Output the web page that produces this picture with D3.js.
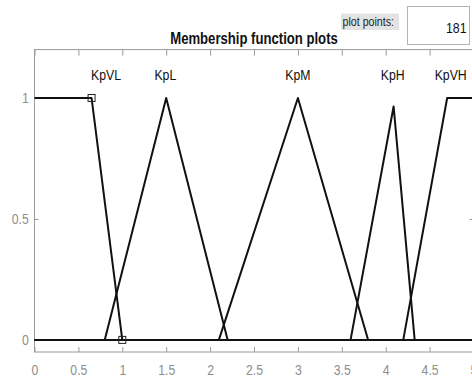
<!DOCTYPE html>
<html>
<head>
<meta charset="utf-8">
<script src="https://cdn.jsdelivr.net/npm/d3@7"></script>
<style>
  html, body { margin: 0; padding: 0; background: #ffffff; }
  svg { display: block; }
  .narrow { font-family: "Liberation Sans", Arial, sans-serif; }
</style>
</head>
<body>
<svg id="chart" width="472" height="379"></svg>
<script>
// Input variable range and tick marks
const xTicks = [0, 0.5, 1, 1.5, 2, 2.5, 3, 3.5, 4, 4.5, 5];
const yTicks = [0, 0.5, 1];

// Membership functions, as (x, degree) vertices over [0, 5]
const mfNames = ["KpVL", "KpL", "KpM", "KpH", "KpVH"];
const kpVL = [[0, 1], [0.65, 1], [1, 0], [5, 0]];
const kpL  = [[0, 0], [0.8, 0], [1.5, 1], [2.2, 0], [5, 0]];
const kpM  = [[0, 0], [2.1, 0], [3, 1], [3.8, 0], [5, 0]];
const kpH  = [[0, 0], [3.6, 0], [4.09, 0.965], [4.33, 0], [5, 0]];
const kpVH = [[0, 0], [4.2, 0], [4.7, 1], [5, 1]];
const mfLabelX = [0.815, 1.49, 3.0, 4.08, 4.74];

// Vertices of the currently selected function (KpVL)
const selectedVertices = [[0.65, 1], [1, 0]];

const plotPoints = 181;

const svg = d3.select("#chart");
const m = { left: 34.5, right: 473.5, top: 49.6, bottom: 352 };
const squeeze = 0.82; // condensed look for all lettering

const x = d3.scaleLinear().domain([0, 5]).range([m.left, m.right]);
const y = d3.scaleLinear().domain([-0.05, 1.2]).range([m.bottom, m.top]);

const axisGrey = "#9a9a9a";
const labelGrey = "#8e8e8e";

// Places a horizontally condensed text at (tx, ty)
function narrowText(parent, tx, ty, str) {
  return parent.append("text")
    .attr("class", "narrow")
    .attr("transform", `translate(${tx},${ty}) scale(${squeeze},1)`)
    .text(str);
}

// Axes box
svg.append("rect")
  .attr("x", m.left).attr("y", m.top)
  .attr("width", m.right - m.left).attr("height", m.bottom - m.top)
  .attr("fill", "none").attr("stroke", axisGrey).attr("stroke-width", 1);

// Axes with inward ticks on all four sides
const xAxisBottom = svg.append("g")
  .attr("transform", `translate(0,${m.bottom})`)
  .call(d3.axisBottom(x).tickValues(xTicks).tickFormat(d3.format("~g"))
        .tickSizeInner(-5).tickSizeOuter(0).tickPadding(12));
const xAxisTop = svg.append("g")
  .attr("transform", `translate(0,${m.top})`)
  .call(d3.axisTop(x).tickValues(xTicks).tickFormat("")
        .tickSizeInner(-6).tickSizeOuter(0));
const yAxisLeft = svg.append("g")
  .attr("transform", `translate(${m.left},0)`)
  .call(d3.axisLeft(y).tickValues(yTicks).tickFormat(d3.format("~g"))
        .tickSizeInner(-4).tickSizeOuter(0).tickPadding(7));
const yAxisRight = svg.append("g")
  .attr("transform", `translate(${m.right},0)`)
  .call(d3.axisRight(y).tickValues(yTicks).tickFormat("")
        .tickSizeInner(-4).tickSizeOuter(0));

[xAxisBottom, xAxisTop, yAxisLeft, yAxisRight].forEach(g => {
  g.select(".domain").remove();
  g.selectAll(".tick line").attr("stroke", axisGrey);
  g.selectAll(".tick text")
    .attr("class", "narrow")
    .attr("fill", labelGrey)
    .attr("transform", `scale(${squeeze},1)`)
    .style("font-size", "15px");
});

// Membership function curves
const line = d3.line().x(d => x(d[0])).y(d => y(d[1]));
const curves = [kpVL, kpL, kpM, kpH, kpVH];
svg.append("g").selectAll("path")
  .data(curves)
  .join("path")
  .attr("d", line)
  .attr("fill", "none")
  .attr("stroke", "#111")
  .attr("stroke-width", 2)
  .attr("stroke-linejoin", "round");

// Vertex handles of the selected function
svg.append("g").selectAll("rect")
  .data(selectedVertices)
  .join("rect")
  .attr("x", d => x(d[0]) - 3.5)
  .attr("y", d => y(d[1]) - 3.5)
  .attr("width", 7).attr("height", 7)
  .attr("fill", "none")
  .attr("stroke", "#222")
  .attr("stroke-width", 1);

// Function names above each curve
const nameLayer = svg.append("g");
mfNames.forEach((name, i) => {
  narrowText(nameLayer, x(mfLabelX[i]), 80, name)
    .attr("text-anchor", "middle")
    .attr("fill", "#111")
    .style("font-size", "15px");
});

// Title
narrowText(svg, (m.left + m.right) / 2, 43.5, "Membership function plots")
  .attr("text-anchor", "middle")
  .attr("fill", "#111")
  .style("font-size", "16px")
  .style("font-weight", "bold");

// Plot points control
svg.append("rect")
  .attr("x", 341).attr("y", 13.5).attr("width", 58).attr("height", 16.5)
  .attr("fill", "#e3e3e3");
narrowText(svg, 342.5, 25.5, "plot points:")
  .attr("fill", "#222")
  .style("font-size", "13px");
svg.append("rect")
  .attr("x", 407.5).attr("y", 6.5).attr("width", 62).attr("height", 38)
  .attr("fill", "#fff").attr("stroke", "#b4b4b4").attr("stroke-width", 1);
narrowText(svg, 466.5, 33, plotPoints)
  .attr("text-anchor", "end")
  .attr("fill", "#111")
  .style("font-size", "15px");
</script>
</body>
</html>
